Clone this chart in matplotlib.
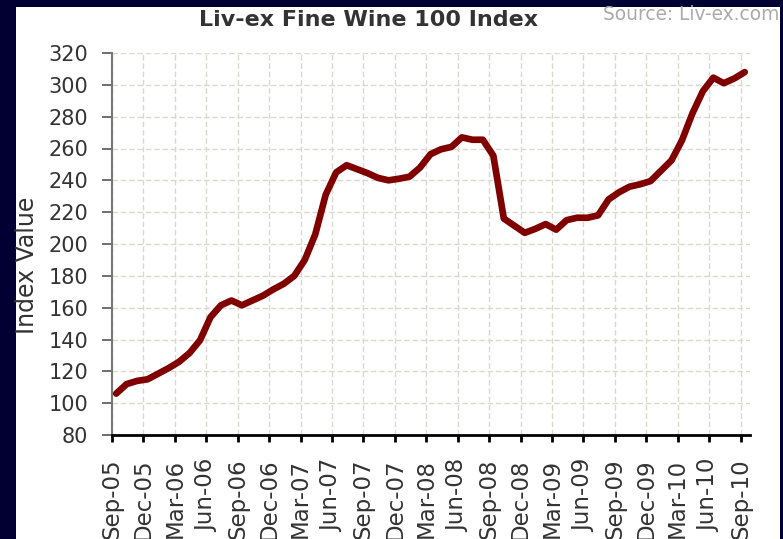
import matplotlib
matplotlib.use('Agg')
import matplotlib.pyplot as plt
from matplotlib.patches import Rectangle

# monthly index values, Sep-05 .. Sep-10
values = [106, 112, 114, 115, 118.5, 122, 126, 131.5, 139.5, 154,
          161.5, 164.5, 161.5, 164.5, 167.5, 171.5, 175, 180, 190, 206,
          231, 245, 249.5, 247, 244.5, 241.5, 240, 241, 242.3, 248,
          256.4, 259.5, 261, 267, 265.5, 265.5, 255.5, 216, 211.5, 207,
          209.5, 212.5, 209, 215, 216.5, 216.5, 218, 228, 232.5, 236,
          237.5, 239.5, 246, 252.5, 265, 282, 296, 304.5, 301, 304, 308]
tick_labels = ['Sep-05', 'Dec-05', 'Mar-06', 'Jun-06', 'Sep-06', 'Dec-06',
               'Mar-07', 'Jun-07', 'Sep-07', 'Dec-07', 'Mar-08', 'Jun-08',
               'Sep-08', 'Dec-08', 'Mar-09', 'Jun-09', 'Sep-09', 'Dec-09',
               'Mar-10', 'Jun-10', 'Sep-10']
y_ticks = list(range(80, 321, 20))

# data points sit mid-month, ticks at month start
months = [i + 0.4 for i in range(len(values))]
tick_pos = [3 * i for i in range(len(tick_labels))]

fig = plt.figure(figsize=(7.83, 5.39), dpi=100, facecolor='#000033')
fig.patches.append(Rectangle((16 / 783, 0), (780 - 16) / 783, (539 - 7) / 539,
                             transform=fig.transFigure, facecolor='white',
                             edgecolor='none', zorder=-10))

ax = fig.add_axes([112 / 783, 104 / 539, (750 - 112) / 783, (435 - 53) / 539])
ax.set_facecolor('white')

ax.plot(months, values, color='#800000', lw=4.8, solid_joinstyle='round',
        solid_capstyle='round', zorder=3)

ax.set_xlim(0, 60.9)
ax.set_ylim(80, 320)
ax.set_yticks(y_ticks)
ax.set_xticks(tick_pos)
ax.set_xticklabels(tick_labels, rotation=90)

ax.grid(True, color='#d9d9d0', linestyle=(0, (4, 2)), linewidth=1)
ax.set_axisbelow(True)

for s in ['top', 'right']:
    ax.spines[s].set_visible(False)
ax.spines['left'].set_color('#777777')
ax.spines['left'].set_linewidth(1.5)
ax.spines['bottom'].set_color('black')
ax.spines['bottom'].set_linewidth(2)

ax.tick_params(axis='y', length=7, width=1.2, color='#555555', pad=10,
               labelsize=15, labelcolor='#333333')
ax.tick_params(axis='x', length=5, width=2, color='black', pad=12,
               labelsize=16.5, labelcolor='#333333')

ax.set_ylabel('Index Value', fontsize=17, color='#333333')
ax.yaxis.set_label_coords(-0.115, 0.445)

fig.text(369 / 783, 1 - 20 / 539, 'Liv-ex Fine Wine 100 Index', ha='center',
         va='center', fontsize=16, fontweight='bold', color='#333333')
fig.text(779 / 783, 1 - 14 / 539, 'Source: Liv-ex.com', ha='right',
         va='center', fontsize=13.4, color='#aaaaaa')

fig.savefig('out.png', dpi=100, facecolor=fig.get_facecolor())
